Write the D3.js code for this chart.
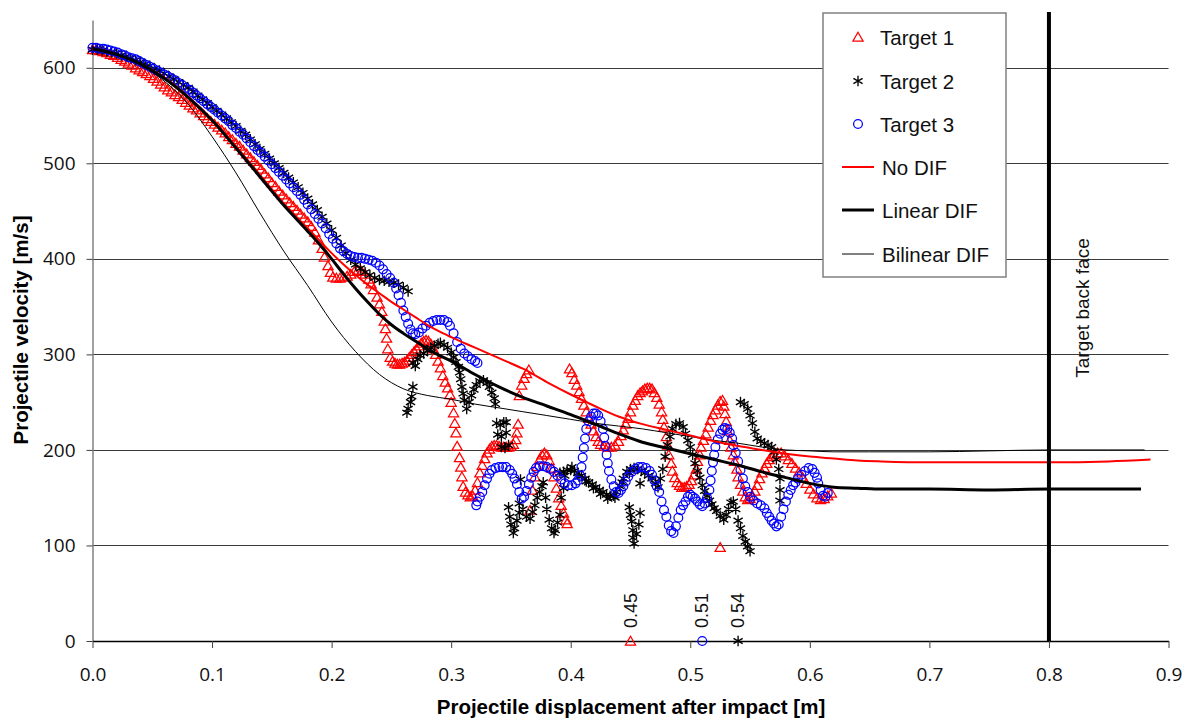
<!DOCTYPE html>
<html>
<head>
<meta charset="utf-8">
<script src="https://cdn.jsdelivr.net/npm/d3@7"></script>
<style>
  body { margin: 0; background: #fff; }
  svg { display: block; }
</style>
</head>
<body>
<svg id="chart" width="1191" height="722"></svg>
<script>
// ---- axes ----
const xTicks = [0, 0.1, 0.2, 0.3, 0.4, 0.5, 0.6, 0.7, 0.8, 0.9];
const yTicks = [0, 100, 200, 300, 400, 500, 600];
const xTitle = "Projectile displacement after impact [m]";
const yTitle = "Projectile velocity [m/s]";
const backFaceX = 0.8;
const backFaceLabel = "Target back face";

// ---- measured projectile velocity, [displacement m, velocity m/s] ----
const target1 = [
  [0,619],[0.003,619],[0.006,618],[0.009,617],[0.012,616],[0.015,614],[0.018,613],[0.021,611],[0.024,609],[0.027,607],
  [0.030,605],[0.033,603],[0.036,600],[0.039,598],[0.042,596],[0.045,594],[0.048,592],[0.051,589],[0.054,586],[0.057,583],
  [0.060,580],[0.063,577],[0.066,575],[0.069,572],[0.072,570],[0.075,567],[0.078,564],[0.081,561],[0.084,558],[0.087,556],
  [0.090,553],[0.093,550],[0.096,547],[0.099,544],[0.102,541],[0.105,538],[0.108,535],[0.111,532],[0.114,528],[0.117,525],
  [0.120,521],[0.123,518],[0.126,514],[0.129,510],[0.132,506],[0.135,502],[0.138,498],[0.141,494],[0.144,489],[0.147,485],
  [0.150,480],[0.153,476],[0.156,471],[0.159,467],[0.162,463],[0.165,459],[0.168,455],[0.171,451],[0.174,447],[0.177,443],
  [0.180,439],[0.183,434],[0.186,428],[0.189,420],[0.192,411],[0.194,402],[0.197,393],[0.199,386],[0.201,381],[0.204,380],
  [0.207,380],[0.210,381],[0.213,382],[0.216,384],[0.219,387],[0.222,388],[0.225,387],[0.228,384],[0.231,379],[0.233,374],
  [0.235,368],[0.238,360],[0.240,353],[0.242,345],[0.244,335],[0.245,327],[0.246,317],[0.247,306],[0.249,297],[0.251,293],
  [0.253,291],[0.255,290],[0.257,290],[0.259,291],[0.261,292],[0.263,294],[0.265,297],[0.267,300],[0.269,303],[0.271,306],
  [0.273,309],[0.275,312],[0.277,314],[0.279,315],[0.281,314],[0.283,311],[0.285,306],[0.287,300],[0.289,293],[0.291,286],
  [0.293,278],[0.295,271],[0.297,265],[0.299,258],[0.300,250],[0.302,239],[0.303,228],[0.304,218],[0.305,204],[0.307,192],
  [0.308,182],[0.309,172],[0.310,162],[0.312,156],[0.314,153],[0.316,151],[0.318,152],[0.320,158],[0.322,166],[0.324,176],
  [0.326,184],[0.328,191],[0.330,197],[0.332,201],[0.334,204],[0.336,205],[0.338,205],[0.340,204],[0.342,203],[0.344,203],
  [0.346,203],[0.348,203],[0.350,204],[0.352,206],[0.354,211],[0.355,218],[0.356,227],[0.357,257],[0.359,268],[0.361,275],
  [0.363,280],[0.365,284],[0.366,137],[0.368,158],[0.370,172],[0.372,183],[0.374,190],[0.376,195],[0.378,197],[0.380,195],
  [0.382,189],[0.384,181],[0.386,172],[0.388,160],[0.390,150],[0.392,142],[0.394,134],[0.396,127],[0.397,123],[0.399,285],
  [0.401,281],[0.403,274],[0.405,268],[0.407,261],[0.409,254],[0.411,247],[0.413,240],[0.415,233],[0.417,227],[0.419,220],
  [0.421,214],[0.423,209],[0.425,206],[0.428,204],[0.431,203],[0.434,203],[0.437,205],[0.440,209],[0.442,215],[0.444,221],
  [0.446,227],[0.448,233],[0.450,240],[0.452,247],[0.454,252],[0.456,257],[0.458,260],[0.460,262],[0.462,264],[0.464,265],
  [0.466,265],[0.468,264],[0.470,260],[0.472,255],[0.474,248],[0.476,240],[0.477,232],[0.478,224],[0.480,214],[0.481,205],
  [0.482,195],[0.484,186],[0.485,178],[0.487,171],[0.489,166],[0.491,163],[0.493,161],[0.495,161],[0.497,162],[0.499,164],
  [0.501,168],[0.503,174],[0.505,180],[0.506,188],[0.508,195],[0.509,203],[0.511,210],[0.513,217],[0.515,224],[0.517,231],
  [0.519,237],[0.521,242],[0.523,247],[0.525,251],[0.527,252],[0.528,246],[0.529,238],[0.530,230],[0.531,220],[0.533,210],
  [0.534,203],[0.536,195],[0.537,188],[0.539,180],[0.540,172],[0.542,164],[0.544,157],[0.546,151],[0.548,148],[0.550,149],
  [0.552,152],[0.554,157],[0.556,163],[0.558,170],[0.560,176],[0.562,181],[0.564,186],[0.566,190],[0.568,193],[0.570,195],
  [0.573,197],[0.576,197],[0.579,194],[0.582,190],[0.585,186],[0.588,181],[0.591,177],[0.594,171],[0.597,165],[0.600,159],
  [0.603,154],[0.606,150],[0.609,148],[0.612,149],[0.615,152],[0.618,155],[0.525,98]
];

const target2 = [
  [0,619],[0.004,619],[0.008,618],[0.012,617],[0.016,616],[0.020,615],[0.024,613],[0.028,612],[0.032,610],[0.036,608],
  [0.040,606],[0.044,604],[0.048,602],[0.052,599],[0.056,597],[0.060,594],[0.064,591],[0.068,588],[0.072,585],[0.076,582],
  [0.080,579],[0.084,575],[0.088,571],[0.092,567],[0.096,563],[0.100,559],[0.104,555],[0.108,551],[0.112,547],[0.116,543],
  [0.120,539],[0.124,534],[0.128,530],[0.132,525],[0.136,520],[0.140,515],[0.144,510],[0.148,505],[0.152,500],[0.156,495],
  [0.160,490],[0.164,485],[0.168,480],[0.172,475],[0.176,469],[0.180,463],[0.184,457],[0.188,451],[0.192,444],[0.196,437],
  [0.200,430],[0.204,422],[0.208,414],[0.212,406],[0.216,399],[0.220,394],[0.224,390],[0.228,386],[0.232,383],[0.236,380],
  [0.240,378],[0.244,377],[0.248,376],[0.252,375],[0.256,373],[0.260,370],[0.264,366],
  [0.263,239],[0.264,243],[0.266,250],[0.267,256],[0.268,266],
  [0.268,291],[0.270,288],[0.272,295],[0.274,299],[0.277,301],[0.280,304],[0.283,307],[0.286,309],[0.289,311],[0.291,312],
  [0.294,310],[0.297,307],[0.300,302],[0.302,297],[0.304,292],[0.306,287],[0.307,281],[0.308,274],[0.309,266],[0.310,259],
  [0.311,252],[0.313,243],[0.315,250],[0.317,257],[0.319,263],[0.321,268],[0.324,272],[0.327,273],[0.330,270],[0.332,266],
  [0.334,260],[0.336,254],[0.337,248],
  [0.338,228],[0.341,226],[0.344,229],[0.346,229],[0.339,216],[0.342,214],[0.346,218],[0.342,203],[0.345,202],[0.348,205],
  [0.348,140],[0.349,130],[0.350,122],[0.352,113],[0.353,118],[0.355,126],[0.357,134],[0.357,144],[0.358,169],[0.360,138],
  [0.363,130],[0.366,128],[0.368,135],[0.370,142],[0.372,150],[0.374,156],[0.376,162],[0.377,166],[0.379,150],[0.380,138],
  [0.382,127],[0.384,118],[0.386,113],[0.387,116],[0.389,124],[0.391,132],[0.392,150],[0.394,160],
  [0.391,176],[0.394,177],[0.397,179],[0.400,179],[0.403,178],[0.406,176],[0.409,173],[0.412,170],[0.415,166],[0.418,164],
  [0.421,161],[0.424,158],[0.427,156],[0.430,153],[0.433,152],[0.436,152],[0.438,156],[0.441,162],[0.444,170],[0.447,177],
  [0.395,173],[0.401,182],[0.407,172],[0.413,167],[0.419,160],[0.425,154],[0.431,149],[0.437,150],[0.443,166],[0.449,176],
  [0.450,180],[0.453,181],[0.456,180],[0.459,178],[0.462,176],[0.465,173],[0.468,170],[0.471,165],[0.473,161],[0.475,170],
  [0.477,180],[0.479,193],[0.481,205],[0.483,214],[0.485,222],[0.488,227],[0.491,228],[0.494,224],[0.496,217],[0.498,210],
  [0.500,203],[0.502,195],[0.504,186],[0.506,178],[0.508,171],[0.510,163],[0.512,157],[0.514,152],[0.516,147],[0.518,143],
  [0.520,139],[0.522,136],[0.525,131],[0.528,127],[0.530,132],[0.532,138],[0.534,145],[0.536,146],[0.538,138],[0.540,126],
  [0.542,118],[0.544,110],[0.546,104],[0.548,99],[0.550,94],
  [0.449,140],[0.450,132],[0.451,125],[0.452,116],[0.452,108],[0.453,102],[0.455,112],[0.457,122],[0.458,134],[0.458,165],
  [0.542,250],[0.545,248],[0.548,243],[0.550,236],[0.552,228],[0.554,219],[0.556,212],[0.559,209],[0.562,207],[0.565,205],
  [0.568,203],[0.570,198],[0.572,190],[0.574,180],[0.575,170],[0.575,158],[0.575,147]
];

const target3 = [
  [0,621],[0.003,621],[0.006,620],[0.009,620],[0.012,619],[0.015,618],[0.018,617],[0.021,616],[0.024,614],[0.027,613],
  [0.030,611],[0.033,610],[0.036,609],[0.039,607],[0.042,605],[0.045,603],[0.048,601],[0.051,599],[0.054,597],[0.057,595],
  [0.060,593],[0.063,591],[0.066,589],[0.069,587],[0.072,584],[0.075,582],[0.078,579],[0.081,577],[0.084,574],[0.087,571],
  [0.090,568],[0.093,565],[0.096,562],[0.099,559],[0.102,556],[0.105,553],[0.108,550],[0.111,547],[0.114,544],[0.117,540],
  [0.120,537],[0.123,533],[0.126,530],[0.129,526],[0.132,522],[0.135,518],[0.138,514],[0.141,511],[0.144,507],[0.147,503],
  [0.150,499],[0.153,495],[0.156,491],[0.159,487],[0.162,483],[0.165,479],[0.168,475],[0.171,471],[0.174,467],[0.177,462],
  [0.180,457],[0.183,452],[0.186,447],[0.189,442],[0.192,437],[0.195,432],[0.198,426],[0.201,421],[0.204,416],[0.207,411],
  [0.210,408],[0.213,405],[0.216,403],[0.219,402],[0.222,401],[0.225,401],[0.228,400],[0.231,399],[0.234,398],[0.237,396],
  [0.240,393],[0.243,389],[0.246,384],[0.249,380],[0.252,375],[0.254,369],[0.256,362],[0.258,354],[0.260,346],[0.262,339],
  [0.264,332],[0.266,326],[0.268,322],[0.270,321],[0.273,323],[0.276,327],[0.279,330],[0.282,333],[0.285,335],[0.288,336],
  [0.291,336],[0.294,336],[0.297,334],[0.299,330],[0.302,322],[0.305,313],[0.308,306],[0.311,301],[0.314,298],[0.317,295],
  [0.320,293],[0.322,291],
  [0.321,142],[0.322,146],[0.324,151],[0.326,156],[0.328,163],[0.330,170],[0.332,175],[0.334,179],[0.337,181],[0.340,182],
  [0.343,182],[0.346,182],[0.349,179],[0.351,175],[0.353,170],[0.355,164],[0.357,156],[0.359,149],[0.361,151],[0.363,157],
  [0.365,164],[0.367,171],[0.369,177],[0.371,181],[0.374,183],[0.377,183],[0.380,182],[0.383,180],[0.386,177],[0.389,173],
  [0.392,169],[0.395,165],[0.398,163],[0.401,163],[0.404,165],[0.406,168],[0.408,173],[0.409,182],[0.410,192],[0.411,202],
  [0.412,212],[0.413,222],[0.415,230],[0.417,235],[0.419,238],[0.421,238],[0.423,236],[0.425,230],[0.427,222],[0.428,213],
  [0.429,204],[0.430,195],[0.431,186],[0.432,178],[0.434,169],[0.436,162],[0.438,156],[0.440,155],[0.442,158],[0.444,162],
  [0.446,167],[0.448,172],[0.451,177],[0.454,180],[0.457,182],[0.460,182],[0.463,181],[0.466,178],[0.468,174],[0.470,168],
  [0.472,162],[0.474,156],[0.476,146],[0.478,137],[0.480,130],[0.482,121],[0.484,115],[0.486,113],[0.488,120],[0.490,129],
  [0.492,137],[0.494,142],[0.496,146],[0.498,151],[0.500,153],[0.502,151],[0.504,149],[0.506,146],[0.508,143],[0.510,141],
  [0.512,144],[0.514,150],[0.516,158],[0.517,168],[0.518,178],[0.519,187],[0.520,195],[0.521,203],[0.523,211],[0.525,217],
  [0.527,221],[0.529,223],[0.531,222],[0.533,218],[0.535,212],[0.536,205],[0.538,197],[0.540,188],[0.542,179],[0.544,170],
  [0.546,162],[0.548,156],[0.550,151],[0.553,147],[0.556,144],[0.559,142],[0.562,139],[0.564,134],[0.566,130],[0.568,126],
  [0.570,123],[0.572,120],[0.574,122],[0.576,130],[0.578,138],[0.580,146],[0.582,153],[0.584,158],[0.586,163],[0.588,166],
  [0.590,170],[0.593,174],[0.596,178],[0.599,181],[0.602,180],[0.604,176],[0.606,171],[0.607,165],[0.609,158],[0.611,152],
  [0.613,151],[0.615,155]
];

// final penetration depth of each target, plotted on the x axis
const stopTarget = [1, 3, 2];
const stopDepth = [0.45, 0.51, 0.54];

// ---- simulated velocity histories ----
const noDif = [
  [0,620],[0.02,614],[0.04,604],[0.06,590],[0.08,570],[0.10,546],[0.12,518],[0.14,488],[0.16,458],[0.18,432],
  [0.19,419],[0.20,406],[0.21,394],[0.22,383],[0.23,373],[0.24,364],[0.25,355],[0.26,347],[0.27,339],[0.28,331],
  [0.29,324],[0.30,318],[0.32,307],[0.34,296],[0.36,285],[0.38,271],[0.40,258],[0.42,246],[0.44,235],[0.46,227],
  [0.48,221],[0.50,215],[0.52,209],[0.54,204],[0.56,200],[0.58,196],[0.60,193],[0.62,191],[0.64,189],[0.66,188],
  [0.70,187],[0.75,187],[0.80,187],[0.85,188],[0.885,190]
];
const linearDif = [
  [0,620],[0.02,614],[0.04,604],[0.06,589],[0.08,569],[0.10,545],[0.12,516],[0.14,486],[0.16,456],[0.18,429],
  [0.19,415],[0.20,400],[0.21,384],[0.22,369],[0.23,355],[0.24,342],[0.25,331],[0.26,322],[0.27,314],[0.28,306],
  [0.29,299],[0.30,293],[0.32,279],[0.34,266],[0.36,255],[0.38,246],[0.40,237],[0.42,227],[0.44,217],[0.46,208],
  [0.48,202],[0.50,196],[0.52,190],[0.54,184],[0.56,177],[0.58,171],[0.60,165],[0.62,161],[0.64,160],[0.66,159],
  [0.70,159],[0.75,158],[0.80,159],[0.85,159],[0.877,159]
];
const bilinearDif = [
  [0,620],[0.02,614],[0.04,603],[0.06,586],[0.08,562],[0.10,528],[0.12,490],[0.14,448],[0.16,408],[0.18,372],
  [0.20,334],[0.22,303],[0.24,279],[0.26,264],[0.28,257],[0.30,253],[0.32,248],[0.34,244],[0.36,240],[0.38,236],
  [0.40,232],[0.42,228],[0.44,225],[0.46,222],[0.48,218],[0.50,214],[0.52,210],[0.54,207],[0.56,203],[0.58,200],
  [0.60,199],[0.62,198],[0.65,198],[0.70,198],[0.75,199],[0.80,200],[0.85,200],[0.88,200]
];

const legendNames = ["Target 1", "Target 2", "Target 3", "No DIF", "Linear DIF", "Bilinear DIF"];

// ---- drawing ----
const svg = d3.select("#chart");
const x = d3.scaleLinear().domain([0, 0.9]).range([92.5, 1168.5]);
const y = d3.scaleLinear().domain([0, 650]).range([641, 20]);

const tickFont = "'Open Sans', 'Liberation Sans', sans-serif";
const textFont = "'Liberation Sans', Arial, sans-serif";

// horizontal grid
svg.append("g")
  .selectAll("line")
  .data(yTicks.filter(d => d > 0))
  .join("line")
  .attr("x1", x(0)).attr("x2", x(0.9))
  .attr("y1", d => Math.round(y(d)) + 0.5).attr("y2", d => Math.round(y(d)) + 0.5)
  .attr("stroke", "#3a3a3a").attr("stroke-width", 1);

// y axis
const gy = svg.append("g").attr("transform", `translate(${x(0)},0)`)
  .call(d3.axisLeft(y).tickValues(yTicks).tickSize(6).tickSizeOuter(0).tickPadding(11).tickFormat(d3.format("d")));
gy.select(".domain").attr("stroke", "#808080").attr("stroke-width", 1.5);
gy.selectAll(".tick line").attr("stroke", "#404040");
gy.selectAll(".tick text").attr("font-family", tickFont).attr("font-size", 19).attr("fill", "#111");

// x axis
const gx = svg.append("g").attr("transform", `translate(0,${y(0)})`)
  .call(d3.axisBottom(x).tickValues(xTicks).tickSize(7).tickSizeOuter(0).tickPadding(20).tickFormat(d3.format(".1f")));
gx.select(".domain").attr("stroke", "#000").attr("stroke-width", 1.3);
gx.selectAll(".tick line").attr("stroke", "#404040");
gx.selectAll(".tick text").attr("font-family", tickFont).attr("font-size", 19).attr("fill", "#111");

// axis titles
svg.append("text")
  .attr("x", 631).attr("y", 714)
  .attr("text-anchor", "middle")
  .attr("font-family", textFont).attr("font-weight", "bold").attr("font-size", 20.5)
  .text(xTitle);
svg.append("text")
  .attr("transform", "translate(28,330) rotate(-90)")
  .attr("text-anchor", "middle")
  .attr("font-family", textFont).attr("font-weight", "bold").attr("font-size", 20.5)
  .text(yTitle);

// marker shapes
const triPath = "M0,-4.7L5.1,4.1L-5.1,4.1Z";
const starPath = "M0,-5.3L0,5.3M-4.6,-2.7L4.6,2.7M-4.6,2.7L4.6,-2.7";

const plot = svg.append("g");

function drawTriangles(g, data) {
  g.selectAll(null).data(data).join("path")
    .attr("transform", d => `translate(${x(d[0])},${y(d[1])})`)
    .attr("d", triPath).attr("fill", "none").attr("stroke", "#ff0000").attr("stroke-width", 1.25);
}
function drawStars(g, data) {
  g.selectAll(null).data(data).join("path")
    .attr("transform", d => `translate(${x(d[0])},${y(d[1])})`)
    .attr("d", starPath).attr("fill", "none").attr("stroke", "#000").attr("stroke-width", 1.35);
}
function drawCircles(g, data) {
  g.selectAll(null).data(data).join("circle")
    .attr("cx", d => x(d[0])).attr("cy", d => y(d[1])).attr("r", 4.4)
    .attr("fill", "none").attr("stroke", "#0000ff").attr("stroke-width", 1.25);
}

drawTriangles(plot.append("g"), target1);
drawStars(plot.append("g"), target2);
drawCircles(plot.append("g"), target3);

// final depths on the x axis
const stops = stopTarget.map((t, i) => ({ target: t, depth: stopDepth[i] }));
drawTriangles(plot.append("g"), stops.filter(s => s.target === 1).map(s => [s.depth, 0]));
drawStars(plot.append("g"), stops.filter(s => s.target === 2).map(s => [s.depth, 0]));
drawCircles(plot.append("g"), stops.filter(s => s.target === 3).map(s => [s.depth, 0]));
plot.append("g").selectAll("text").data(stops).join("text")
  .attr("transform", d => `translate(${x(d.depth) + 6},${y(0) - 13}) rotate(-90)`)
  .attr("font-family", textFont).attr("font-size", 18).attr("fill", "#111")
  .text(d => d3.format(".2f")(d.depth));

// simulation curves
const line = d3.line().x(d => x(d[0])).y(d => y(d[1])).curve(d3.curveMonotoneX);
plot.append("path").datum(bilinearDif).attr("d", line)
  .attr("fill", "none").attr("stroke", "#000").attr("stroke-width", 1);
plot.append("path").datum(noDif).attr("d", line)
  .attr("fill", "none").attr("stroke", "#ff0000").attr("stroke-width", 2);
plot.append("path").datum(linearDif).attr("d", line)
  .attr("fill", "none").attr("stroke", "#000").attr("stroke-width", 3);

// target back face
svg.append("line")
  .attr("x1", x(backFaceX)).attr("x2", x(backFaceX))
  .attr("y1", 12).attr("y2", y(0))
  .attr("stroke", "#000").attr("stroke-width", 4);
svg.append("text")
  .attr("transform", `translate(${x(backFaceX) + 40},308) rotate(-90)`)
  .attr("text-anchor", "middle")
  .attr("font-family", textFont).attr("font-size", 19).attr("fill", "#111")
  .text(backFaceLabel);

// legend
const legend = svg.append("g");
legend.append("rect")
  .attr("x", 823).attr("y", 13).attr("width", 183).attr("height", 264)
  .attr("fill", "#fff").attr("stroke", "#808080").attr("stroke-width", 1.5);
const rowY = [37, 81, 124, 167, 210, 254];
drawTriangles(legend.append("g"), [[x.invert(858), y.invert(rowY[0])]]);
drawStars(legend.append("g"), [[x.invert(858), y.invert(rowY[1])]]);
drawCircles(legend.append("g"), [[x.invert(858), y.invert(rowY[2])]]);
const lineStyles = [
  { color: "#ff0000", width: 2 },
  { color: "#000", width: 3 },
  { color: "#000", width: 1 }
];
lineStyles.forEach((s, i) => {
  legend.append("line")
    .attr("x1", 842).attr("x2", 874)
    .attr("y1", rowY[3 + i]).attr("y2", rowY[3 + i])
    .attr("stroke", s.color).attr("stroke-width", s.width);
});
legend.selectAll("text.name").data(legendNames).join("text")
  .attr("class", "name")
  .attr("x", (d, i) => i < 3 ? 880 : 882)
  .attr("y", (d, i) => rowY[i] + 7.5)
  .attr("font-family", textFont).attr("font-size", 20.5).attr("fill", "#111")
  .text(d => d);
</script>
</body>
</html>
